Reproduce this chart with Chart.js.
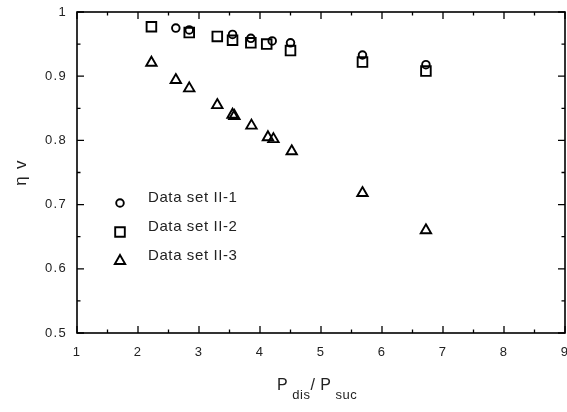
<!DOCTYPE html>
<html>
<head>
<meta charset="utf-8">
<script src="https://cdn.jsdelivr.net/npm/chart.js@4/dist/chart.umd.min.js"></script>
<style>
  html, body { margin: 0; padding: 0; background: #fff; overflow: hidden; }
  #wrap { width: 567px; height: 412px; }
  canvas { display: block; }
</style>
</head>
<body>
<div id="wrap"><canvas id="grafico"></canvas></div>
<script>
// datos
var seriesNames = ["Data set II-1", "Data set II-2", "Data set II-3"];

var ratio1 = [2.62, 2.84, 3.55, 3.85, 4.20, 4.50, 5.68, 6.72];
var eta1   = [0.975, 0.972, 0.965, 0.959, 0.955, 0.952, 0.933, 0.918];

var ratio2 = [2.22, 2.84, 3.30, 3.55, 3.85, 4.11, 4.50, 5.68, 6.72];
var eta2   = [0.977, 0.968, 0.962, 0.956, 0.952, 0.950, 0.940, 0.922, 0.908];

var ratio3 = [2.22, 2.62, 2.84, 3.30, 3.55, 3.58, 3.86, 4.13, 4.22, 4.52, 5.68, 6.72];
var eta3   = [0.921, 0.894, 0.881, 0.855, 0.840, 0.838, 0.823, 0.805, 0.802, 0.783, 0.718, 0.660];

var xMajor = [1, 2, 3, 4, 5, 6, 7, 8, 9];
var yMajor = [0.5, 0.6, 0.7, 0.8, 0.9, 1.0];

var fuente = "'Liberation Sans', Arial, sans-serif";
var marcadores = [
    { estilo: "circle", radio: 3.8 },
    { estilo: "rect", radio: 6.8 },
    { estilo: "triangle", radio: 6 }
];

function toPoints(xs, ys) {
    return xs.map(function(x, i) { return { x: x, y: ys[i] }; });
}

var datasets = [
    toPoints(ratio1, eta1),
    toPoints(ratio2, eta2),
    toPoints(ratio3, eta3)
].map(function(pts, i) {
    return {
        label: seriesNames[i],
        data: pts,
        pointStyle: marcadores[i].estilo,
        pointRadius: marcadores[i].radio,
        borderColor: "#000",
        backgroundColor: "rgba(0,0,0,0)",
        pointBorderWidth: 1.9,
        showLine: false
    };
});

//espaciado de letras como en el original
var espaciadoPlugin = {
    id: "espaciado",
    beforeDraw: function(chart) {
        chart.ctx.letterSpacing = "1.3px";
    }
};

//marco, ticks hacia dentro, leyenda y titulo x
var marcoPlugin = {
    id: "marco",
    afterDraw: function(chart) {
        var ctx = chart.ctx;
        var a = chart.chartArea;
        var xs = chart.scales.x, ys = chart.scales.y;
        ctx.save();
        ctx.strokeStyle = "#000";
        ctx.lineWidth = 1.6;
        ctx.strokeRect(a.left, a.top, a.right - a.left, a.bottom - a.top);
        ctx.lineWidth = 1.3;
        ctx.beginPath();
        for (var v = 1; v <= 9.001; v += 0.5) {
            var px = xs.getPixelForValue(v);
            var len = (Math.abs(v - Math.round(v)) < 0.01) ? 7 : 3.5;
            ctx.moveTo(px, a.bottom); ctx.lineTo(px, a.bottom - len);
            ctx.moveTo(px, a.top); ctx.lineTo(px, a.top + len);
        }
        for (var w = 0.5; w <= 1.0001; w += 0.05) {
            var py = ys.getPixelForValue(w);
            var isMajor = Math.abs(w * 10 - Math.round(w * 10)) < 0.01;
            var l2 = isMajor ? 7 : 3.5;
            ctx.moveTo(a.left, py); ctx.lineTo(a.left + l2, py);
            ctx.moveTo(a.right, py); ctx.lineTo(a.right - l2, py);
        }
        ctx.stroke();

        // leyenda
        var ly = [203, 232, 261];
        chart.data.datasets.forEach(function(ds, i) {
            ctx.fillStyle = "rgba(0,0,0,0)";
            ctx.strokeStyle = "#000";
            ctx.lineWidth = ds.pointBorderWidth;
            Chart.helpers.drawPoint(ctx, {
                pointStyle: ds.pointStyle,
                radius: ds.pointRadius,
                rotation: 0,
                borderWidth: ds.pointBorderWidth
            }, 120, ly[i]);
            ctx.font = "15px " + fuente;
            ctx.letterSpacing = "0.6px";
            ctx.fillStyle = "#222";
            ctx.textBaseline = "middle";
            ctx.fillText(ds.label, 148, ly[i] - 5);
        });

        // titulo eje x con subindices
        ctx.letterSpacing = "0.5px";
        var big = "16px " + fuente;
        var small = "13px " + fuente;
        var parts = [["P", big, 0], [" dis", small, 9], ["/ P", big, 0], [" suc", small, 9]];
        var x0 = 277;
        ctx.fillStyle = "#222";
        ctx.textBaseline = "alphabetic";
        parts.forEach(function(p) {
            ctx.font = p[1];
            ctx.fillText(p[0], x0, 390 + p[2]);
            x0 += ctx.measureText(p[0]).width;
        });
        ctx.restore();
    }
};

var ctxGrafico = document.getElementById("grafico");
var grafico = new Chart(ctxGrafico, {
    type: "scatter",
    plugins: [espaciadoPlugin, marcoPlugin],
    data: { datasets: datasets },
    options: {
        responsive: true,
        maintainAspectRatio: false,
        animation: false,
        layout: { autoPadding: false, padding: { top: 12, right: 2, left: 0, bottom: 0 } },
        scales: {
            x: {
                type: "linear",
                min: 1, max: 9,
                afterBuildTicks: function(s) { s.ticks = xMajor.map(function(v) { return { value: v }; }); },
                afterFit: function(s) { s.height = 79; s.paddingLeft = 0; s.paddingRight = 0; },
                grid: { display: false, drawTicks: false },
                border: { display: false },
                ticks: {
                    padding: 12,
                    color: "#222",
                    font: { family: fuente, size: 13 }
                }
            },
            y: {
                type: "linear",
                min: 0.5, max: 1,
                afterBuildTicks: function(s) { s.ticks = yMajor.map(function(v) { return { value: v }; }); },
                afterFit: function(s) { s.width = 77; s.paddingTop = 0; s.paddingBottom = 0; },
                grid: { display: false, drawTicks: false },
                border: { display: false },
                title: {
                    display: true,
                    text: "\u03B7 v",
                    color: "#222",
                    font: { family: fuente, size: 17 },
                    padding: { top: 11, bottom: 0 }
                },
                ticks: {
                    padding: 10,
                    color: "#222",
                    font: { family: fuente, size: 13 },
                    callback: function(v) { return String(+Number(v).toFixed(1)); }
                }
            }
        },
        plugins: {
            legend: { display: false },
            tooltip: { enabled: false }
        }
    }
});
</script>
</body>
</html>
